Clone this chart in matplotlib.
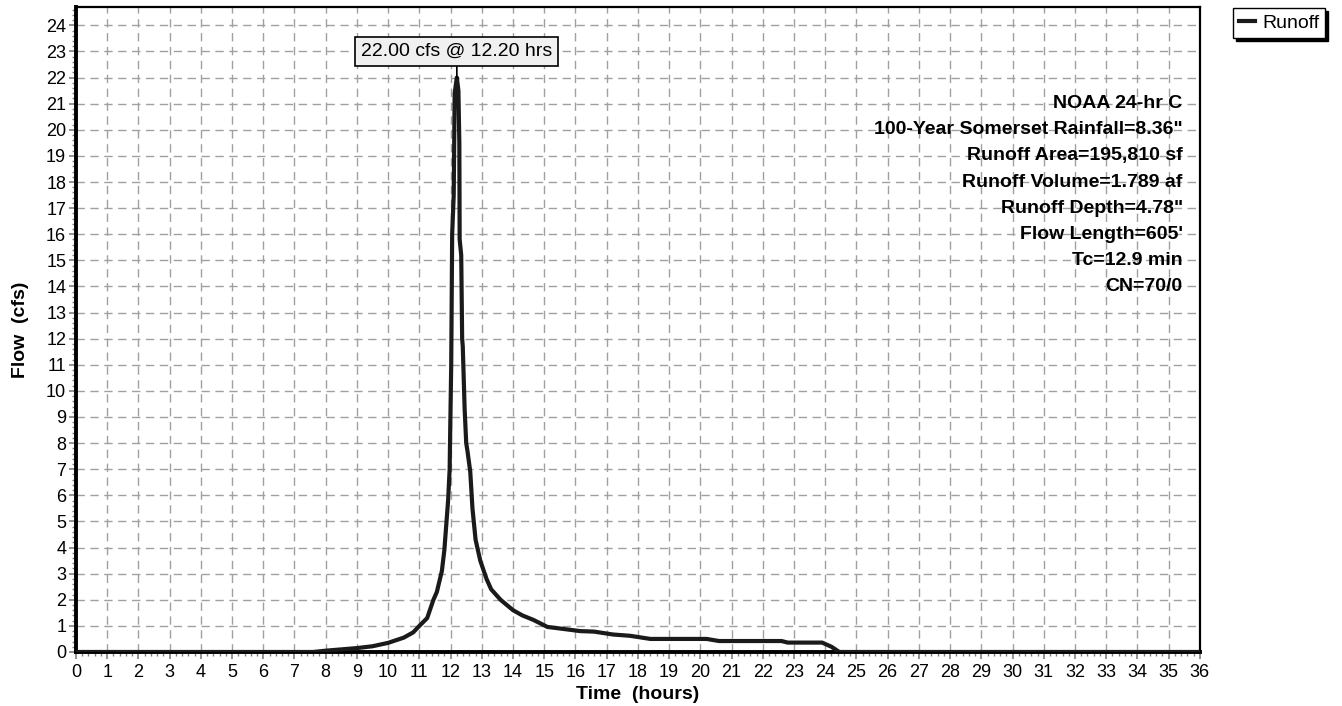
import matplotlib
matplotlib.use("Agg")
import matplotlib.pyplot as plt
from matplotlib.ticker import MultipleLocator

plt.rcParams['font.family'] = ['Liberation Sans', 'DejaVu Sans']

# Hydrograph
time_hr = [0, 7.6, 8.0, 8.5, 9.0, 9.5, 10.0, 10.5, 10.8, 11.0, 11.25, 11.45,
           11.56, 11.72, 11.8, 11.92, 11.97, 11.98, 12.02, 12.05, 12.1, 12.13,
           12.2, 12.25, 12.28, 12.29, 12.34, 12.37, 12.39, 12.45, 12.5, 12.54,
           12.63, 12.7, 12.8, 12.95, 13.15, 13.3, 13.6, 14.0, 14.3, 14.65,
           15.1, 15.5, 16.15, 16.6, 17.2, 17.75, 18.4, 20.2, 20.6, 22.6, 22.8,
           23.9, 24.2, 24.45, 36]
flow_cfs = [0, 0, 0.05, 0.1, 0.15, 0.22, 0.35, 0.55, 0.75, 1.0, 1.3, 2.0,
            2.3, 3.1, 3.9, 5.8, 7.0, 7.9, 11.0, 16.0, 17.5, 21.4,
            22.0, 21.5, 19.5, 15.8, 15.2, 12.0, 11.7, 9.3, 8.0, 7.7,
            6.9, 5.5, 4.3, 3.5, 2.8, 2.4, 2.0, 1.6, 1.4, 1.23,
            0.96, 0.9, 0.8, 0.78, 0.67, 0.62, 0.5, 0.5, 0.42, 0.42, 0.36,
            0.36, 0.2, 0.0, 0]

peak_flow = 22.00
peak_time = 12.20
peak_label = "22.00 cfs @ 12.20 hrs"

info_lines = ["NOAA 24-hr C",
              "100-Year Somerset Rainfall=8.36\"",
              "Runoff Area=195,810 sf",
              "Runoff Volume=1.789 af",
              "Runoff Depth=4.78\"",
              "Flow Length=605'",
              "Tc=12.9 min",
              "CN=70/0"]

fig = plt.figure(figsize=(13.42, 7.06), dpi=100)
ax = fig.add_axes([0.0566, 0.0765, 0.8375, 0.9135])

ax.plot(time_hr, flow_cfs, color='#1a1a1a', lw=3, label='Runoff',
        solid_joinstyle='round', zorder=3)

ax.set_xlim(0, 36)
ax.set_ylim(0, 24.7)
ax.xaxis.set_major_locator(MultipleLocator(1))
ax.xaxis.set_minor_locator(MultipleLocator(0.2))
ax.yaxis.set_major_locator(MultipleLocator(1))
ax.yaxis.set_minor_locator(MultipleLocator(0.2))
ax.tick_params(which='major', direction='out', length=5, width=1.2,
               color='#808080', labelsize=13, labelcolor='black')
ax.tick_params(axis='x', which='major', pad=4)
ax.tick_params(axis='y', which='major', pad=2)
ax.tick_params(which='minor', direction='out', length=3, width=1,
               color='#808080')
ax.grid(True, which='major', color='#a0a0a0', linestyle=(0, (6, 4)), lw=1)

for side in ['left', 'bottom']:
    ax.spines[side].set_linewidth(2.8)
for side in ['top', 'right']:
    ax.spines[side].set_linewidth(1.6)

ax.set_xlabel('Time  (hours)', fontsize=14, fontweight='bold', labelpad=3)
ax.set_ylabel('Flow  (cfs)', fontsize=14, fontweight='bold', labelpad=12)

# peak label
ax.annotate(peak_label, xy=(peak_time, peak_flow), xytext=(peak_time, 23.0),
            ha='center', va='center', fontsize=14,
            bbox=dict(boxstyle='square,pad=0.3', fc='#f0f0f0', ec='black', lw=1.2),
            arrowprops=dict(arrowstyle='-', color='black', lw=1.2,
                            shrinkA=0, shrinkB=0), zorder=4)

# info block
for i, line in enumerate(info_lines):
    ax.text(35.45, 21 - i, line, ha='right', va='center', fontsize=14,
            fontweight='bold', zorder=4)

ax.legend(loc='upper left', bbox_to_anchor=(0.919, 0.988),
          bbox_transform=fig.transFigure, fontsize=14, frameon=True,
          fancybox=False, edgecolor='black', framealpha=1,
          shadow={'color': 'black', 'alpha': 1}, handlelength=0.8,
          handletextpad=0.4, borderpad=0.3, borderaxespad=0)

fig.savefig('out.png', dpi=100)
